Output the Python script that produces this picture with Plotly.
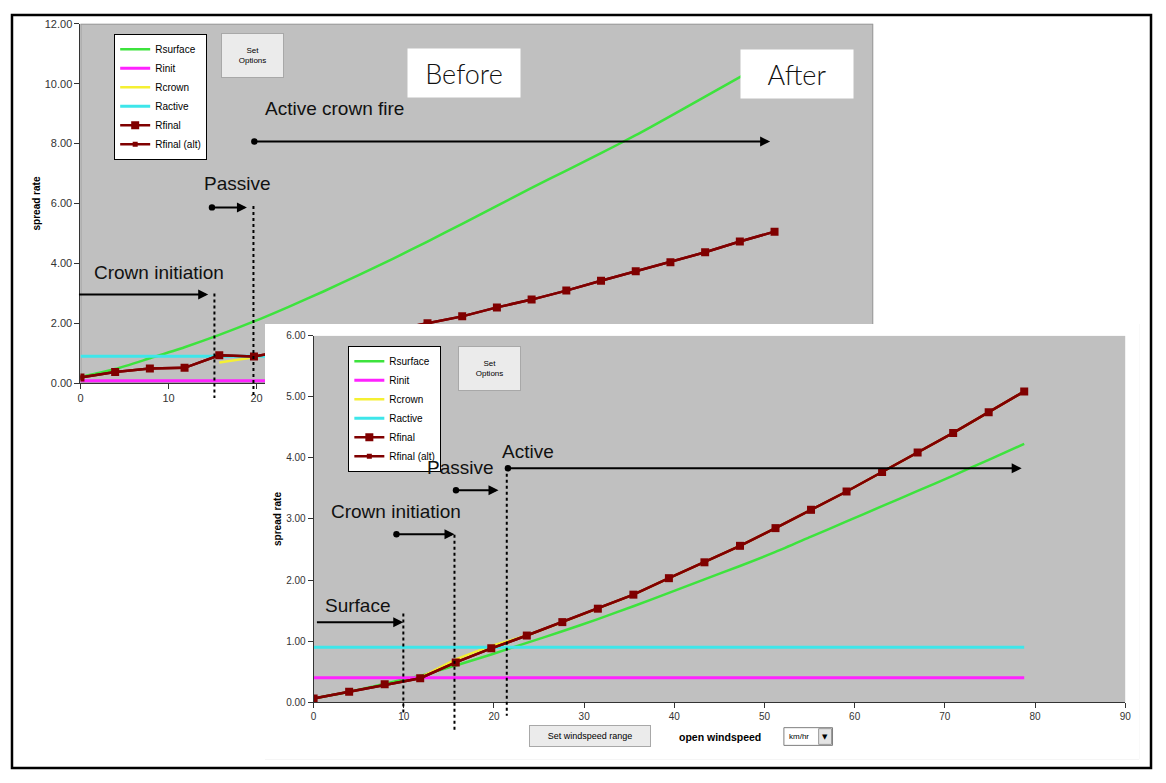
import plotly.graph_objects as go

# page body keeps an 8px margin, so the figure is 1150x767 and every layout
# position (in window pixels) is shifted by 8px
W, H = 1150, 767
OFF = 8

# ---------------- data ----------------
windspeed = [0, 3.94, 7.88, 11.82, 15.76, 19.70, 23.64, 27.58, 31.52, 35.46, 39.40,
             43.34, 47.28, 51.22, 55.16, 59.10, 63.04, 66.98, 70.92, 74.86, 78.80]

# "Before" chart (top)
before_rsurface = [0.20, 0.47, 0.83, 1.20, 1.61, 2.06, 2.55, 3.06, 3.60, 4.15, 4.73,
                   5.32, 5.92, 6.52, 7.10, 7.68, 8.28, 8.92, 9.57, 10.22, 10.88]
before_rinit = [0.08, 0.08, 0.08, 0.08, 0.08, 0.08, 0.08, 0.08, 0.08, 0.08, 0.08,
                0.08, 0.08, 0.08, 0.08, 0.08, 0.08, 0.08, 0.08, 0.08, 0.08]
before_rcrown = [None, None, None, None, 0.69, 0.86, 1.06, 1.28, 1.50, 1.74, None,
                 None, None, None, None, None, None, None, None, None, None]
before_ractive = [0.90, 0.90, 0.90, 0.90, 0.90, 0.90, 0.90, 0.90, 0.90, 0.90, 0.90,
                  0.90, 0.90, 0.90, 0.90, 0.90, 0.90, 0.90, 0.90, 0.90, 0.90]
before_rfinal = [0.19, 0.37, 0.49, 0.51, 0.93, 0.89, 1.10, 1.32, 1.55, 1.78, 2.00,
                 2.23, 2.53, 2.79, 3.09, 3.42, 3.74, 4.04, 4.37, 4.73, 5.06]

# "After" chart (bottom)
after_rsurface = [0.06, 0.17, 0.30, 0.43, 0.60, 0.78, 0.97, 1.16, 1.36, 1.57, 1.79,
                  2.01, 2.23, 2.46, 2.71, 2.96, 3.21, 3.46, 3.71, 3.97, 4.23]
after_rinit = [0.40, 0.40, 0.40, 0.40, 0.40, 0.40, 0.40, 0.40, 0.40, 0.40, 0.40,
               0.40, 0.40, 0.40, 0.40, 0.40, 0.40, 0.40, 0.40, 0.40, 0.40]
after_rcrown = [None, None, None, 0.40, 0.70, 0.92, 1.09, 1.31, 1.53, 1.76, 2.03,
                2.29, 2.56, 2.85, 3.15, 3.45, 3.77, 4.09, 4.41, 4.75, 5.09]
after_ractive = [0.90, 0.90, 0.90, 0.90, 0.90, 0.90, 0.90, 0.90, 0.90, 0.90, 0.90,
                 0.90, 0.90, 0.90, 0.90, 0.90, 0.90, 0.90, 0.90, 0.90, 0.90]
after_rfinal = [0.06, 0.17, 0.29, 0.39, 0.65, 0.88, 1.09, 1.31, 1.53, 1.76, 2.03,
                2.29, 2.56, 2.85, 3.15, 3.45, 3.77, 4.09, 4.41, 4.75, 5.09]

series_names = ["Rsurface", "Rinit", "Rcrown", "Ractive", "Rfinal", "Rfinal (alt)"]
x_ticks = [0, 10, 20, 30, 40, 50, 60, 70, 80, 90]
top_x_ticks = [0, 10, 20]

# ---------------- styles ----------------
GREEN = "#3de33d"
MAGENTA = "#ff22ff"
YELLOW = "#f5f033"
CYAN = "#3ee6ea"
DARKRED = "#800000"
GRAY_BG = "#c0c0c0"
FONT = "Liberation Sans, Arial, sans-serif"


def px(xp):
    return (xp - OFF) / W


def py(yp):
    return 1 - (yp - OFF) / H


fig = go.Figure()


def add_chart(xa, ya, legend, rs, ri, rc, ra, rf):
    vals = [rs, ri, rc, ra, rf, rf]
    for name, yv in zip(series_names, vals):
        if name == "Rsurface":
            kw = dict(mode="lines", line=dict(color=GREEN, width=2.5, shape="spline",
                                              smoothing=0.6))
        elif name == "Rinit":
            kw = dict(mode="lines", line=dict(color=MAGENTA, width=3))
        elif name == "Rcrown":
            kw = dict(mode="lines", line=dict(color=YELLOW, width=2.5))
        elif name == "Ractive":
            kw = dict(mode="lines", line=dict(color=CYAN, width=3))
        elif name == "Rfinal":
            kw = dict(mode="lines+markers", line=dict(color=DARKRED, width=2.5),
                      marker=dict(symbol="square", size=8, color=DARKRED))
        else:
            kw = dict(mode="lines+markers", line=dict(color=DARKRED, width=2.5),
                      marker=dict(symbol="square", size=5, color=DARKRED))
        fig.add_trace(go.Scatter(x=windspeed, y=yv, name=name, xaxis=xa, yaxis=ya,
                                 legend=legend, hoverinfo="skip", connectgaps=False,
                                 **kw))


add_chart("x", "y", "legend", before_rsurface, before_rinit, before_rcrown,
          before_ractive, before_rfinal)
# white panel of the overlaid screenshot
fig.add_trace(go.Scatter(x=[], y=[], xaxis="x2", yaxis="y2", showlegend=False,
                         hoverinfo="skip"))
add_chart("x3", "y3", "legend2", after_rsurface, after_rinit, after_rcrown,
          after_ractive, after_rfinal)

axis_common = dict(showgrid=False, zeroline=False, showline=True, linecolor="#333333",
                   linewidth=1, ticks="outside", tickcolor="#333333", ticklen=5,
                   fixedrange=True, tickfont=dict(family=FONT, color="#333333"))

legend_common = dict(bgcolor="white", bordercolor="black", borderwidth=1,
                     font=dict(family=FONT, size=10, color="black"),
                     xanchor="left", yanchor="top", traceorder="normal",
                     itemwidth=30, tracegroupgap=0)

fig.update_layout(
    width=W, height=H,
    margin=dict(l=0, r=0, t=0, b=0),
    paper_bgcolor="white",
    plot_bgcolor=GRAY_BG,
    hovermode=False,
    font=dict(family=FONT, color="black"),
    xaxis=dict(domain=[px(78), px(877)], range=[0, 90], tickvals=top_x_ticks,
               anchor="y", **axis_common),
    yaxis=dict(domain=[py(383), py(18)], range=[0, 12], dtick=2, tickformat=".2f",
               anchor="x",
               title=dict(text="<b>spread rate</b>", standoff=2,
                          font=dict(family=FONT, size=10, color="black")),
               **axis_common),
    xaxis2=dict(domain=[px(264), px(1145)], range=[0, 1], visible=False, anchor="y2",
                fixedrange=True),
    yaxis2=dict(domain=[py(765), py(323)], range=[0, 1], visible=False, anchor="x2",
                fixedrange=True),
    xaxis3=dict(domain=[px(313), px(1131)], range=[0, 90], tickvals=x_ticks,
                anchor="y3", **axis_common),
    yaxis3=dict(domain=[py(707), py(335)], range=[0, 6], dtick=1, tickformat=".2f",
                anchor="x3",
                title=dict(text="<b>spread rate</b>", standoff=2,
                           font=dict(family=FONT, size=10, color="black")),
                **axis_common),
    legend=dict(x=px(112), y=py(28), **legend_common),
    legend2=dict(x=px(348), y=py(345), **legend_common),
)
fig.update_xaxes(tickfont_size=11, selector=dict(anchor="y"))
fig.update_yaxes(tickfont_size=11, selector=dict(anchor="x"))
fig.update_xaxes(tickfont_size=10, selector=dict(anchor="y3"))
fig.update_yaxes(tickfont_size=10, selector=dict(anchor="x3"))

shapes = []
# white panel covering the lower right of the "before" screenshot
shapes.append(dict(type="rect", xref="x2", yref="y2", x0=0, x1=1, y0=0, y1=1,
                   fillcolor="white", line=dict(width=0), layer="below"))
# plot area border of the top chart
shapes.append(dict(type="rect", xref="x", yref="y", x0=0, x1=90, y0=0, y1=12,
                   line=dict(color="#9a9a9a", width=2), layer="below"))
# outer frame
shapes.append(dict(type="rect", xref="paper", yref="paper", x0=px(9), x1=px(1157),
                   y0=py(774), y1=py(9), line=dict(color="black", width=2.5),
                   layer="above"))
# dotted threshold lines – top chart
for xv, ytop in [(15.21, 292), (19.64, 203)]:
    shapes.append(dict(type="line", xref="x", yref="paper", x0=xv, x1=xv,
                       y0=py(ytop), y1=py(398), line=dict(color="black", width=2, dash="dot"),
                       layer="above"))
# dotted threshold lines – bottom chart
for xv, ytop, ybot in [(9.95, 617, 720), (15.62, 537, 737), (21.42, 469, 721)]:
    shapes.append(dict(type="line", xref="x3", yref="paper", x0=xv, x1=xv,
                       y0=py(ytop), y1=py(ybot), line=dict(color="black", width=2, dash="dot"),
                       layer="above"))
# km/hr combo box
shapes.append(dict(type="rect", xref="paper", yref="paper", x0=px(787), x1=px(836),
                   y0=py(751), y1=py(733), fillcolor="white",
                   line=dict(color="#7f7f7f", width=1), layer="above"))
shapes.append(dict(type="rect", xref="paper", yref="paper", x0=px(822), x1=px(835),
                   y0=py(750), y1=py(734), fillcolor="#e4e4e4",
                   line=dict(color="#9a9a9a", width=1), layer="above"))
fig.update_layout(shapes=shapes)

ann = []
LBL = dict(family=FONT, size=19, color="#111111")


def label(text, x, y, xref, yref):
    ann.append(dict(text=text, x=x, y=y, xref=xref, yref=yref, showarrow=False,
                    font=LBL, xanchor="center", yanchor="middle"))


def arrow(x0, x1, y, xref, yref, dot):
    d = dict(text="", x=x1, y=y, ax=x0, ay=y, xref=xref, yref=yref, axref=xref,
             ayref=yref, showarrow=True, arrowhead=2, arrowsize=1, arrowwidth=2,
             arrowcolor="black", standoff=0, startstandoff=0)
    if dot:
        d.update(arrowside="end+start", startarrowhead=6, startarrowsize=0.8)
    ann.append(d)


# top chart labels & arrows
label("Crown initiation", 8.87, 3.71, "x", "y")
arrow(-0.34, 14.5, 2.96, "x", "y", False)
label("Passive", 17.86, 6.67, "x", "y")
arrow(14.76, 18.9, 5.87, "x", "y", True)
label("Active crown fire", 28.8, 9.16, "x", "y")
arrow(19.57, 78.3, 8.07, "x", "y", True)

# bottom chart labels & arrows
label("Surface", 4.9, 1.59, "x3", "y3")
arrow(0.2, 9.94, 1.306, "x3", "y3", False)
label("Crown initiation", 9.19, 3.13, "x3", "y3")
arrow(9.02, 15.62, 2.75, "x3", "y3", True)
label("Passive", 16.34, 3.85, "x3", "y3")
arrow(15.62, 20.5, 3.47, "x3", "y3", True)
label("Active", 23.76, 4.10, "x3", "y3")
arrow(21.38, 78.52, 3.83, "x3", "y3", True)

# Before / After boxes
for txt, cx, cy in [("Before", 464.5, 67.5), ("After", 800.3, 69.2)]:
    ann.append(dict(text=txt, x=px(cx), y=py(cy), xref="paper", yref="paper",
                    showarrow=False, bgcolor="white", width=112, height=48,
                    borderpad=0, font=dict(family="Lato, sans-serif", size=27,
                                           weight=300, color="#111111"),
                    xanchor="center", yanchor="middle"))

# buttons
for cx, cy in [(251.5, 50.5), (490.5, 368.5)]:
    ann.append(dict(text="Set<br>Options", x=px(cx), y=py(cy), xref="paper",
                    yref="paper", showarrow=False, bgcolor="#ebebeb",
                    bordercolor="#a8a8a8", borderwidth=1, width=61, height=43,
                    borderpad=0, font=dict(family=FONT, size=8, color="black"),
                    xanchor="center", yanchor="middle"))
ann.append(dict(text="Set windspeed range", x=px(592), y=py(741), xref="paper",
                yref="paper", showarrow=False, bgcolor="#ebebeb", bordercolor="#a8a8a8",
                borderwidth=1, width=120, height=20, borderpad=0,
                font=dict(family=FONT, size=9, color="black"),
                xanchor="center", yanchor="middle"))
ann.append(dict(text="<b>open windspeed</b>", x=px(723), y=py(742), xref="paper",
                yref="paper", showarrow=False,
                font=dict(family=FONT, size=10.5, color="black"),
                xanchor="center", yanchor="middle"))
ann.append(dict(text="km/hr", x=px(790), y=py(742), xref="paper", yref="paper",
                showarrow=False, font=dict(family=FONT, size=8, color="black"),
                xanchor="left", yanchor="middle"))
ann.append(dict(text="▼", x=px(828.5), y=py(742), xref="paper", yref="paper",
                showarrow=False, font=dict(family="DejaVu Sans", size=7, color="black"),
                xanchor="center", yanchor="middle"))

fig.update_layout(annotations=ann)

fig.write_html("out.html")
